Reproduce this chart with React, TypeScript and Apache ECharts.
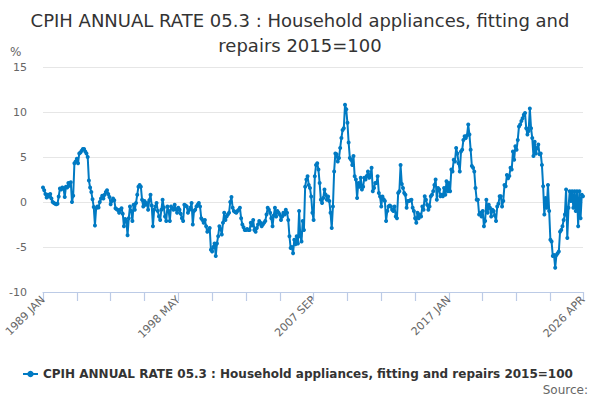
import React, { useEffect, useRef } from "react";
import * as echarts from "echarts";

const TITLE = "CPIH ANNUAL RATE 05.3 : Household appliances, fitting and\nrepairs 2015=100";
const SERIES_NAME = "CPIH ANNUAL RATE 05.3 : Household appliances, fitting and repairs 2015=100";
const MONTH_NAMES = ["JAN", "FEB", "MAR", "APR", "MAY", "JUN", "JUL", "AUG", "SEP", "OCT", "NOV", "DEC"];
const START_YEAR = 1989;

const rate1989to1995 = [
  1.6, 1.3, 0.9, 0.5, 0.8, 0.6, 0.9, 0.4, 0.0, -0.1, -0.2, -0.25,
  -0.2, 0.6, 1.5, 1.4, 1.6, 1.5, 0.55, 1.7, 1.6, 2.1, 1.8, 2.2,
  0.0, 0.7, 4.3, 4.5, 4.8, 4.3, 5.4, 5.5, 5.7, 5.9, 5.9, 5.6,
  5.4, 5.0, 2.4, 1.6, 1.1, 0.3, -0.55, -2.6, -0.7, -0.5, -0.6, 0.0,
  0.4, 0.7, 0.4, 0.8, 1.1, 1.3, 0.9, 0.55, -0.25, 0.1, 0.4, 0.2,
  -0.7, -0.8, -0.9, -1.2, -0.85, -0.7, -1.3, -2.7, -1.9, -2.1, -3.7, -1.8,
  -0.5, -1.0, -2.1, -0.3, -0.85, -0.1, 0.8, 1.7, 1.9, 1.7, 0.25, -0.5,
];
const rate1996to2002 = [
  0.1, -0.3, -0.1, -0.85, 0.2, 0.8, -0.4, -2.7, -0.85, -0.5, -0.1, -1.0,
  -1.6, -2.0, -0.85, 0.25, -0.6, -1.6, -2.1, -0.5, -1.0, -2.1, -0.5, -0.7,
  -0.85, -0.3, -0.8, -1.2, -0.65, -0.85, -1.3, -1.8, -2.1, -0.3, -0.4, -0.5,
  -1.2, -0.9, -0.65, -0.1, -2.5, -1.0, -0.85, -0.5, -0.3, -0.1, -0.5, -1.8,
  -2.0, -2.3, -2.0, -2.7, -3.3, -3.1, -2.9, -5.3, -5.5, -5.0, -4.6, -6.0,
  -4.6, -3.8, -2.7, -3.0, -3.6, -2.3, -1.2, -2.0, -1.6, -1.4, -1.2, 0.0,
  0.55, -0.65, -1.0, -1.1, -1.2, -1.0, -0.85, -0.65, -1.8, -2.5, -2.8, -3.1,
];
const rate2003to2009 = [
  -3.1, -3.0, -3.1, -3.1, -2.3, -2.6, -2.0, -3.1, -3.3, -2.9, -2.5, -2.1,
  -2.3, -2.7, -2.5, -2.3, -2.1, -1.4, -0.65, -0.85, -1.2, -1.8, -2.7, -1.5,
  -0.65, -1.6, -1.0, -1.2, -1.4, -2.0, -1.6, -1.2, -1.4, -0.85, -1.2, -2.0,
  -3.8, -5.1, -5.0, -5.7, -4.2, -4.7, -3.8, -4.6, -1.0, -3.8, -4.4, -2.1,
  -3.1, 1.7, 2.5, 2.85, 1.9, 1.55, 0.6, -1.2, -2.0, 2.85, 4.1, 4.3,
  3.6, 2.1, 0.25, -0.1, 0.45, 1.4, 0.8, 0.25, 0.6, 0.1, -1.2, -2.9,
  -0.5, 3.4, 5.4, 5.3, 4.5, 4.9, 6.0, 7.1, 8.0, 8.2, 10.8, 10.3,
];
const rate2010to2016 = [
  8.8, 6.6, 4.9, 4.7, 4.1, 5.1, 2.85, 2.5, 0.45, 2.1, 1.7, 2.7,
  1.4, 1.7, 2.7, 2.5, 2.9, 3.4, 2.7, 3.0, 3.8, 1.2, 1.55, 2.1,
  2.1, 2.85, 1.0, 0.6, -0.5, 0.6, 0.3, 0.1, -2.1, -1.0, -0.5, -0.4,
  -0.5, -0.85, -1.0, -0.5, -1.6, -1.8, 1.0, 1.2, 4.1, 2.0, 1.55, 1.0,
  0.8, -0.65, 0.1, 0.1, 0.2, 0.25, -0.65, -1.0, -1.8, -2.3, -1.2, -1.8,
  -1.4, -1.6, -0.5, -0.85, 0.65, 0.25, -0.3, -0.85, -0.5, 0.65, 0.8, 1.2,
  1.9, 2.5, 0.25, 1.55, 1.4, 0.65, 0.8, 0.65, 1.55, 0.8, 2.3, 1.2,
];
const rate2017to2023 = [
  2.1, 1.2, 3.6, 3.4, 4.7, 4.5, 6.0, 5.4, 4.3, 3.4, 5.6, 5.8,
  6.9, 7.3, 7.1, 7.4, 8.6, 7.5, 5.8, 4.0, 3.8, 3.4, 1.55, 0.25,
  0.25, -1.4, -1.2, -1.6, -1.0, -2.7, -2.1, 0.25, -1.2, -0.3, -0.65, -1.6,
  -0.85, -1.0, -1.5, -2.1, -0.5, -0.2, 0.65, 0.65, -0.5, 0.1, 1.9, 1.75,
  3.0, 2.65, 2.9, 3.8, 3.6, 5.6, 4.7, 6.2, 5.8, 6.9, 8.4, 8.6,
  9.0, 9.3, 9.7, 9.9, 8.2, 7.5, 7.9, 10.4, 8.2, 7.1, 5.1, 6.7,
  5.4, 6.0, 6.4, 5.3, 5.4, 4.1, 1.75, -1.4, 0.45, -0.65, 1.9, -1.0,
];
const rate2024to2026 = [
  -4.2, -4.4, -6.0, -5.9, -7.3, -5.9, -5.7, -5.5, -3.3, -3.1, -2.7, -2.0,
  -1.4, 1.4, -4.0, -0.65, 1.2, 0.1, 1.2, -0.65, 1.2, -1.0, 1.2, -2.7,
  1.2, -1.8, 0.8, 0.65,
];

const values = [
  ...rate1989to1995,
  ...rate1996to2002,
  ...rate2003to2009,
  ...rate2010to2016,
  ...rate2017to2023,
  ...rate2024to2026,
];
const categories = values.map((_, i) => {
  const y = START_YEAR + Math.floor(i / 12);
  return `${y} ${MONTH_NAMES[i % 12]}`;
});
const LAST = categories.length - 1;

const FONT = "'DejaVu Sans', 'Liberation Sans', sans-serif";
const AXIS_BLUE = "#bccbe6";

export default function App() {
  const ref = useRef<HTMLDivElement>(null);
  useEffect(() => {
    if (!ref.current) return;
    const chart = echarts.init(ref.current, undefined, { renderer: "svg" });
    chart.setOption({
      animation: false,
      backgroundColor: "#ffffff",
      textStyle: { fontFamily: FONT },
      title: {
        text: TITLE,
        left: "center",
        top: 3,
        textStyle: {
          fontFamily: FONT,
          fontSize: 18,
          fontWeight: "normal",
          color: "#333333",
          lineHeight: 25,
        },
      },
      graphic: [
        {
          type: "text",
          left: 10,
          top: 46,
          style: { text: "%", fontFamily: FONT, fontSize: 12, fill: "#666666" },
        },
        {
          type: "text",
          right: 12,
          top: 384,
          style: { text: "Source:", fontFamily: FONT, fontSize: 12, fill: "#666666" },
        },
      ],
      legend: {
        left: 17,
        top: 363,
        itemWidth: 15,
        itemHeight: 8,
        itemGap: 10,
        textStyle: { fontFamily: FONT, fontSize: 12, fontWeight: "bold", color: "#333333" },
        data: [SERIES_NAME],
      },
      grid: { left: 43, right: 17, top: 67, bottom: 108 },
      xAxis: {
        type: "category",
        data: categories,
        boundaryGap: false,
        axisLine: { show: true, onZero: false, lineStyle: { color: AXIS_BLUE, width: 1 } },
        axisTick: {
          show: true,
          length: 9,
          lineStyle: { color: AXIS_BLUE, width: 1.2 },
          interval: (i: number) => i % 28 === 0 || i === LAST,
        },
        axisLabel: {
          rotate: 45,
          fontFamily: FONT,
          fontSize: 11,
          color: "#666666",
          margin: 6,
          showMaxLabel: true,
          interval: (i: number) => i % 112 === 0 || i === LAST,
        },
        splitLine: { show: false },
      },
      yAxis: {
        type: "value",
        min: -10,
        max: 15,
        interval: 5,
        axisLine: { show: false },
        axisTick: { show: false },
        axisLabel: { fontFamily: FONT, fontSize: 11, color: "#666666", margin: 16 },
        splitLine: { lineStyle: { color: "#e6e6e6", width: 1 } },
      },
      series: [
        {
          name: SERIES_NAME,
          type: "line",
          data: values,
          symbol: "circle",
          symbolSize: 4,
          showSymbol: true,
          showAllSymbol: true,
          lineStyle: { color: "#007ac3", width: 2 },
          itemStyle: { color: "#007ac3" },
        },
      ],
    });
    return () => chart.dispose();
  }, []);
  return (
    <div
      ref={ref}
      style={{ position: "fixed", left: 0, top: 0, width: 600, height: 400, background: "#fff" }}
    />
  );
}
